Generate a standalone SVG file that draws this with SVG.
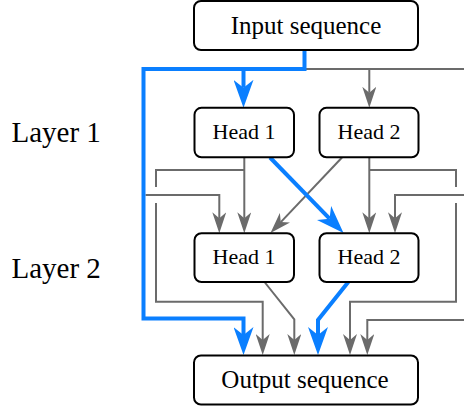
<svg xmlns="http://www.w3.org/2000/svg" width="464" height="410" viewBox="0 0 464 410">
  <style>
    .box { fill: #ffffff; stroke: #000000; stroke-width: 2; }
    .txt { font-family: "Liberation Serif", "Times New Roman", serif; fill: #000000; text-anchor: middle; }
    .seq { font-size: 25px; }
    .head { font-size: 22px; }
    .layer { font-family: "Liberation Serif", "Times New Roman", serif; font-size: 29px; fill: #000000; }
    .gray { fill: none; stroke: #6b6b6b; stroke-width: 2; stroke-linejoin: miter; }
    .blue { fill: none; stroke: #0a7fff; stroke-width: 4; stroke-linejoin: miter; }
    .gray.arrow { marker-end: url(#ahGray); }
    .blue.arrow { marker-end: url(#ahBlue); }
  </style>
  <defs>
    <marker id="ahGray" markerUnits="userSpaceOnUse" markerWidth="21" markerHeight="14" viewBox="0 0 21 14" refX="6" refY="7" orient="auto">
      <path d="M0,0 L21,7 L0,14 L6,7 Z" fill="#6b6b6b"/>
    </marker>
    <marker id="ahBlue" markerUnits="userSpaceOnUse" markerWidth="28" markerHeight="20" viewBox="0 0 28 20" refX="8" refY="10" orient="auto">
      <path d="M0,0 L28,10 L0,20 L8,10 Z" fill="#0a7fff"/>
    </marker>
  </defs>

  <!-- layer captions -->
  <text class="layer" x="11.5" y="141.5">Layer 1</text>
  <text class="layer" x="11.5" y="278.3">Layer 2</text>

  <g id="connectors">
    <!-- residual path on the right (runs past the canvas edge) -->
    <path class="gray arrow" d="M306,69 H470 V320 H367.3 V340"/>
    <path class="gray arrow" d="M369.3,69 V92.8"/>
    <path class="gray arrow" d="M470,195 H395 V218.2"/>
    <!-- residual into layer 2 head 1 from the left -->
    <path class="gray arrow" d="M145.5,195 H219.3 V218.2"/>
    <!-- layer 1 head 1 outputs -->
    <path class="gray arrow" d="M244.3,157.3 V218.2"/>
    <path class="gray arrow" d="M244.3,170 H156 V187 M156,203 V301.7 H262.7 V340"/>
    <!-- layer 1 head 2 outputs -->
    <path class="gray arrow" d="M369.3,157.3 V218.2"/>
    <path class="gray arrow" d="M369.3,170 H456 V187 M456,203 V301.7 H350 V340"/>
    <path class="gray arrow" d="M342,157.5 L280.8,222.1"/>
    <!-- layer 2 head 1 output -->
    <path class="gray arrow" d="M264.5,282 L294.3,319.3 V340"/>

    <!-- highlighted path -->
    <path class="blue arrow" d="M304.5,50 V69 H143.5 V318.5 H243.5 V335"/>
    <path class="blue arrow" d="M243.5,69 V87.8"/>
    <path class="blue arrow" d="M270,157.5 L329.55,218.67"/>
    <path class="blue arrow" d="M348.3,282 L318,320 V335"/>
  </g>

  <g id="input">
    <rect class="box" x="194" y="1" width="224" height="49" rx="7"/>
    <text class="txt seq" x="306" y="34">Input sequence</text>
  </g>
  <g id="l1-head1">
    <rect class="box" x="194.5" y="107.8" width="99.5" height="49.5" rx="7"/>
    <text class="txt head" x="244" y="139.3">Head 1</text>
  </g>
  <g id="l1-head2">
    <rect class="box" x="319.5" y="107.8" width="99" height="49.5" rx="7"/>
    <text class="txt head" x="369" y="139.3">Head 2</text>
  </g>
  <g id="l2-head1">
    <rect class="box" x="194.5" y="233.2" width="99.5" height="48.8" rx="7"/>
    <text class="txt head" x="244" y="263.5">Head 1</text>
  </g>
  <g id="l2-head2">
    <rect class="box" x="319.5" y="233.2" width="99" height="48.8" rx="7"/>
    <text class="txt head" x="369" y="263.5">Head 2</text>
  </g>
  <g id="output">
    <rect class="box" x="194" y="355.5" width="224" height="49" rx="7"/>
    <text class="txt seq" x="305" y="388.3">Output sequence</text>
  </g>
</svg>
